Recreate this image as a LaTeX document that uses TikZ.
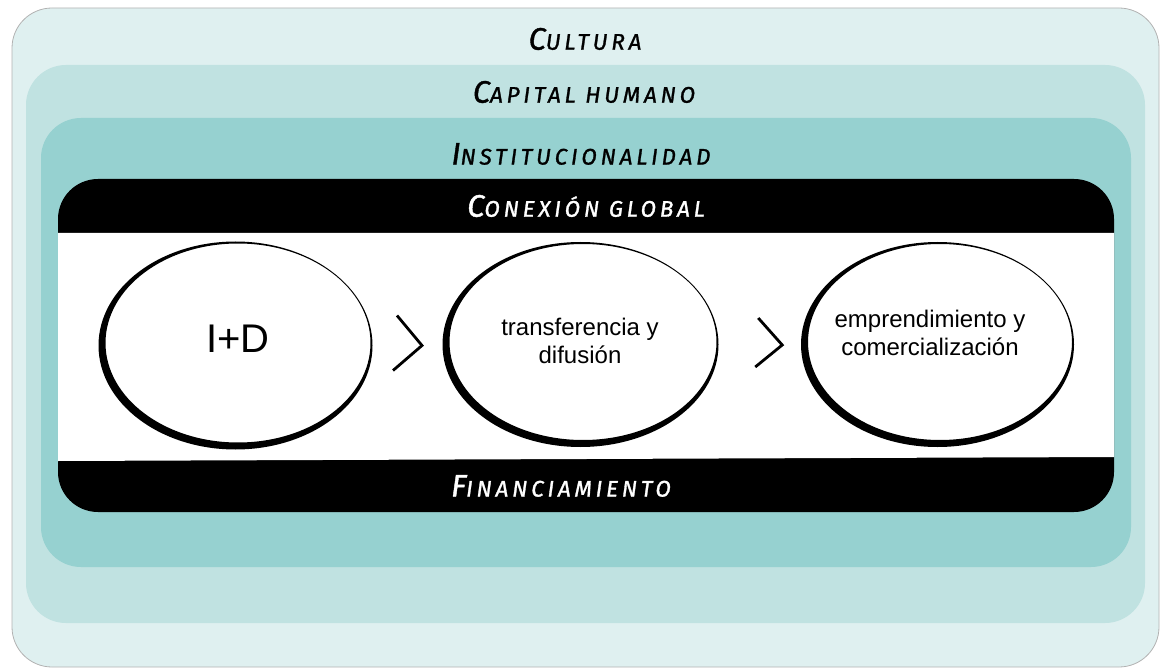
\documentclass[tikz,border=0pt]{standalone}
\usepackage{fontspec}
\setmainfont{Liberation Sans}
\newfontfamily\handfont[LetterSpace=17, FakeBold=1.3]{Fira Sans}
\usetikzlibrary{shapes.geometric,calc}
\definecolor{cult}{RGB}{223,240,240}
\definecolor{capi}{RGB}{192,226,225}
\definecolor{inst}{RGB}{150,209,208}
\newcommand{\hc}[2]{{\handfont\itshape\fontsize{31}{31}\selectfont #1\fontsize{22.5}{22.5}\selectfont #2}}
\begin{document}
\begin{tikzpicture}[x=1pt,y=-1pt,
  band/.style={rounded corners=40pt},
  titletxt/.style={inner sep=0pt, anchor=center},
  blob/.style={ellipse, inner sep=0pt},
  blobtxt/.style={align=center, inner sep=0pt, font=\fontsize{24}{28}\selectfont},
  brush/.style={fill=black, even odd rule},
  chev/.style={line width=2.8pt}]
\useasboundingbox (0,0) rectangle (1162,671);
\fill[band, fill=cult, draw=black!30, line width=0.8pt] (12,8) rectangle (1159,667);
\fill[band, fill=capi] (26,65) rectangle (1145,623);
\fill[band, fill=inst] (41,118) rectangle (1131,567);
\fill[band, fill=black] (58,179) rectangle (1114,512);
\fill[white] (58,233) -- (1114,233) -- (1114,457) -- (58,461) -- cycle;
% titles
\node[titletxt] (tcult) at (585,39) {\hc{C}{ULTURA}};
\node[titletxt] (tcapi) at (584,92) {\hc{C}{APITAL HUMANO}};
\node[titletxt] (tinst) at (581,154) {\hc{I}{NSTITUCIONALIDAD}};
\node[titletxt, text=white] (tcon) at (586,206) {\hc{C}{ONEXIÓN GLOBAL}};
\node[titletxt, text=white] (tfin) at (561,486) {\hc{F}{INANCIAMIENTO}};
% ellipses
\node[blob, minimum width=270pt, minimum height=204pt] (e1) at (238,343) {};
\node[blob, minimum width=272pt, minimum height=201pt] (e2) at (583,342) {};
\node[blob, minimum width=269pt, minimum height=201pt] (e3) at (940,342) {};
\fill[brush] ($(e1.center)+(-2.5,2.5)$) ellipse [x radius=137pt, y radius=104pt]
  (e1.center) ellipse [x radius=132.5pt, y radius=99.5pt];
\fill[brush] ($(e2.center)+(-2.5,2.5)$) ellipse [x radius=138pt, y radius=102.5pt]
  (e2.center) ellipse [x radius=133.5pt, y radius=98pt];
\fill[brush] ($(e3.center)+(-2.5,2.5)$) ellipse [x radius=136.5pt, y radius=102.5pt]
  (e3.center) ellipse [x radius=132pt, y radius=98pt];
\node[blobtxt, font=\fontsize{40}{44}\selectfont] (l1) at (238,339) {I+D};
\node[blobtxt] (l2) at (580,341) {transferencia y\\difusión};
\node[blobtxt] (l3) at (930,333) {emprendimiento y\\comercialización};
% chevrons
\coordinate (m1) at ($(e1.east)!0.5!(e2.west)$);
\coordinate (m2) at ($(e2.east)!0.5!(e3.west)$);
\draw[chev] ($(m1)+(-13,-27)$) -- ($(m1)+(12,3)$) -- ($(m1)+(-17,28)$);
\draw[chev] ($(m2)+(-4,-24)$) -- ($(m2)+(20,3)$) -- ($(m2)+(-7,25)$);
\end{tikzpicture}
\end{document}
